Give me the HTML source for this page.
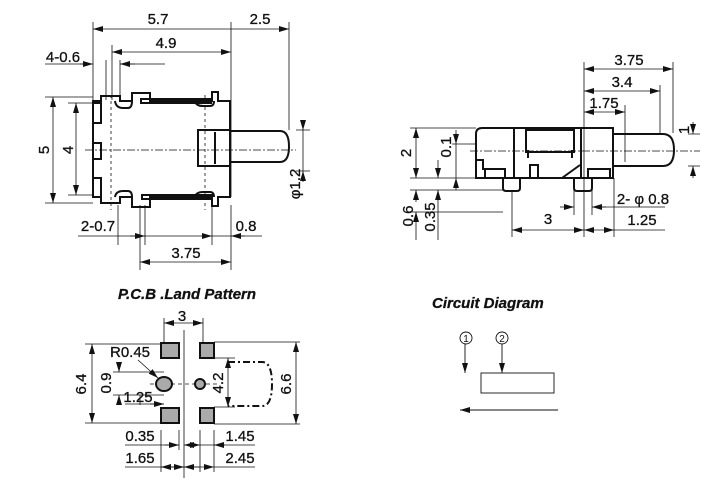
<!DOCTYPE html>
<html><head><meta charset="utf-8"><style>
html,body{margin:0;padding:0;background:#fff;width:721px;height:483px;overflow:hidden}
text{font-family:"Liberation Sans",Arial,sans-serif;font-size:15px;fill:#111;stroke:#111;stroke-width:0.3}
.t{font-weight:bold;font-style:italic;font-size:15px}
</style></head><body>
<svg width="721" height="483" viewBox="0 0 721 483" xmlns="http://www.w3.org/2000/svg">
<defs>
<marker id="a" viewBox="0 0 10 6" refX="10" refY="3" markerWidth="10" markerHeight="6" orient="auto-start-reverse" markerUnits="userSpaceOnUse"><path d="M0,0L10,3L0,6z" fill="#111"/></marker>
</defs>
<g stroke="#111" fill="none" stroke-width="0.8">
<path d="M93,22V100M112,45V100M231,22V197M289,22V130M106,60V100M120,60V100M45,97H93M68,103H93M45,203H93M68,195H93M296,130H310M296,171H310M140,205V270M231,205V270M212,205V245M145,205V245M118,205V245"/>
<path d="M93,29H231M231,29H289" marker-start="url(#a)" marker-end="url(#a)"/>
<path d="M112,52H231" marker-start="url(#a)" marker-end="url(#a)"/>
<path d="M45,64H93M120,64H165"/><path d="M80,64H93" marker-end="url(#a)"/><path d="M135,64H120" marker-end="url(#a)"/>
<path d="M53,97V203" marker-start="url(#a)" marker-end="url(#a)"/>
<path d="M76,103V195" marker-start="url(#a)" marker-end="url(#a)"/>
<path d="M303,120V130" marker-end="url(#a)"/><path d="M303,182V171" marker-end="url(#a)"/><path d="M303,130V171"/>
<path d="M78,236H200M212,236H262"/><path d="M130,236H145" marker-end="url(#a)"/><path d="M200,236H212" marker-end="url(#a)"/><path d="M245,236H231" marker-end="url(#a)"/>
<path d="M140,262H231" marker-start="url(#a)" marker-end="url(#a)"/>
<path d="M85,150H296" stroke-dasharray="8,2,2,2"/>
<path d="M111,95V210M205,95V210" stroke-dasharray="3,3"/>
</g>
<g stroke="#111" fill="none" stroke-width="2">
<path d="M93,101H101V96H120V101H132V93H150V101H212V92H218V101H230V197H218V206H212V197H150V207H132V197H120V203H101V197H93Z"/>
<rect x="93" y="103" width="8" height="20"/><rect x="93" y="143" width="8" height="16"/><rect x="93" y="178" width="8" height="19"/>
<rect x="141" y="99" width="70" height="4"/><rect x="142" y="195" width="70" height="4"/>
<path d="M115,101Q116,108 123,108H128Q132,108 132,101M195,101Q196,106 203,106H210Q214,106 214,101M115,197Q116,191 123,191H128Q132,191 132,197M195,197Q196,192 203,192H210Q214,192 214,197"/>
<rect x="198" y="130" width="32" height="36"/><path d="M215,132V164"/>
<path d="M230,131H280Q289,131 289,146.5Q289,162 280,162H230"/>
</g>

<g stroke="#111" fill="none" stroke-width="0.8">
<path d="M584,62V237M673,62V133M660,85V133M625,105V162M410,128H476M410,178H476M452,144H476M410,190H503M410,212H503M688,134H700M688,166H700M512,190V237M574,190V215M592,190V215M614,178V237"/>
<path d="M584,69H673" marker-start="url(#a)" marker-end="url(#a)"/>
<path d="M584,91H660" marker-start="url(#a)" marker-end="url(#a)"/>
<path d="M584,112H625" marker-start="url(#a)" marker-end="url(#a)"/>
<path d="M416,128V178" marker-start="url(#a)" marker-end="url(#a)"/>
<path d="M456,130V144" marker-end="url(#a)"/><path d="M456,190V178" marker-end="url(#a)"/><path d="M456,144V178"/>
<path d="M416,202V190" marker-end="url(#a)"/><path d="M416,222V212" marker-end="url(#a)"/><path d="M416,212V240"/>
<path d="M438,160V178" marker-end="url(#a)"/><path d="M438,200V190" marker-end="url(#a)"/><path d="M438,190V240"/>
<path d="M693,122V134" marker-end="url(#a)"/><path d="M693,178V166" marker-end="url(#a)"/>
<path d="M512,230H584" marker-start="url(#a)" marker-end="url(#a)"/>
<path d="M584,230H614" marker-start="url(#a)" marker-end="url(#a)"/><path d="M614,230H665"/>
<path d="M560,207H574" marker-end="url(#a)"/><path d="M606,207H592" marker-end="url(#a)"/><path d="M592,207H665"/>
<path d="M470,151H700" stroke-dasharray="8,2,2,2"/>
</g>
<g stroke="#111" fill="none" stroke-width="2">
<path d="M482,128H613V178H476V134Q476,128 482,128Z"/>
<path d="M514,128V178M581,128V178M477,160H483V170"/>
<rect x="526" y="130" width="48" height="22"/><path d="M528,150V158M572,150V158"/>
<path d="M485,178V169H505V178M588,178V169H610V178M530,178V165H538V178M562,178L580,165"/>
<path d="M503,178V188Q503,191 506,191H517Q520,191 520,188V178M574,178V188Q574,191 577,191H589Q592,191 592,188V178"/>
<path d="M613,134H663Q674,134 674,150Q674,166 663,166H613"/>
</g>

<g stroke="#111" fill="none" stroke-width="0.8">
<path d="M164,318V343M203,318V343M85,344H161M85,423H161M214,342H300M214,424H300M214,358H235M214,407H235M113,372H164M113,395H164M140,395V405M161,430V472M179,430V450M184,330V478M200,430V472M214,430V472"/>
<path d="M164,323H203" marker-start="url(#a)" marker-end="url(#a)"/>
<path d="M92,344V423" marker-start="url(#a)" marker-end="url(#a)"/>
<path d="M296,342V424" marker-start="url(#a)" marker-end="url(#a)"/>
<path d="M228,358V407" marker-start="url(#a)" marker-end="url(#a)"/>
<path d="M119,362V372" marker-end="url(#a)"/><path d="M119,405V395" marker-end="url(#a)"/>
<path d="M138,360L158,378" marker-end="url(#a)"/>
<path d="M125,404H164" /><path d="M150,404H164" marker-end="url(#a)"/>
<path d="M125,445H179M200,445H255"/><path d="M165,445H179" marker-end="url(#a)"/><path d="M184,445H200" marker-start="url(#a)" marker-end="url(#a)"/><path d="M225,445H214" marker-end="url(#a)"/>
<path d="M125,467H200M214,467H255"/><path d="M161,467H184" marker-start="url(#a)" marker-end="url(#a)"/><path d="M184,467H214" marker-start="url(#a)" marker-end="url(#a)"/>
<path d="M150,384H220" stroke-dasharray="4,3"/>
</g>
<g stroke="#111" stroke-width="2" fill="#aaa">
<rect x="161" y="343" width="18" height="15"/><rect x="200" y="343" width="14" height="15"/>
<rect x="161" y="408" width="18" height="15"/><rect x="200" y="408" width="14" height="15"/>
<ellipse cx="164" cy="384" rx="8" ry="7"/><circle cx="200" cy="384" r="5"/>
</g>
<path d="M228,362H262Q272,362 272,384Q272,406 262,406H228" stroke="#111" stroke-width="2" fill="none" stroke-dasharray="7,3,2,3"/>

<g stroke="#111" fill="none" stroke-width="0.9">
<circle cx="466" cy="338" r="6"/><circle cx="502" cy="338" r="6"/>
<path d="M465,344V373" marker-end="url(#a)"/>
<path d="M502,344V373" marker-end="url(#a)"/>
<rect x="481" y="373" width="73" height="20"/>
<path d="M558,410H460" marker-end="url(#a)"/>
</g>
<text x="466" y="342" text-anchor="middle" style="font-size:10px;stroke-width:0">1</text>
<text x="502" y="342" text-anchor="middle" style="font-size:10px;stroke-width:0">2</text>

<text x="158" y="24" text-anchor="middle">5.7</text>
<text x="260" y="24" text-anchor="middle">2.5</text>
<text x="166" y="48" text-anchor="middle">4.9</text>
<text x="63" y="62" text-anchor="middle">4-0.6</text>
<text x="49" y="150" text-anchor="middle" transform="rotate(-90 49 150)">5</text>
<text x="73" y="150" text-anchor="middle" transform="rotate(-90 73 150)">4</text>
<text x="300" y="184" text-anchor="middle" transform="rotate(-90 300 184)">φ1.2</text>
<text x="98" y="231" text-anchor="middle">2-0.7</text>
<text x="246" y="231" text-anchor="middle">0.8</text>
<text x="186" y="258" text-anchor="middle">3.75</text>

<text x="629" y="65" text-anchor="middle">3.75</text>
<text x="622" y="87" text-anchor="middle">3.4</text>
<text x="604" y="108" text-anchor="middle">1.75</text>
<text x="689" y="130" text-anchor="middle" transform="rotate(-90 689 130)">1</text>
<text x="411" y="153" text-anchor="middle" transform="rotate(-90 411 153)">2</text>
<text x="451" y="147" text-anchor="middle" transform="rotate(-90 451 147)">0.1</text>
<text x="413" y="216" text-anchor="middle" transform="rotate(-90 413 216)">0.6</text>
<text x="435" y="217" text-anchor="middle" transform="rotate(-90 435 217)">0.35</text>
<text x="548" y="224" text-anchor="middle">3</text>
<text x="643" y="204" text-anchor="middle">2- φ 0.8</text>
<text x="642" y="225" text-anchor="middle">1.25</text>

<text x="187" y="299" text-anchor="middle" class="t">P.C.B .Land  Pattern</text>
<text x="182" y="321" text-anchor="middle">3</text>
<text x="130" y="357" text-anchor="middle">R0.45</text>
<text x="111" y="383" text-anchor="middle" transform="rotate(-90 111 383)">0.9</text>
<text x="138" y="402" text-anchor="middle">1.25</text>
<text x="86" y="384" text-anchor="middle" transform="rotate(-90 86 384)">6.4</text>
<text x="291" y="384" text-anchor="middle" transform="rotate(-90 291 384)">6.6</text>
<text x="223" y="383" text-anchor="middle" transform="rotate(-90 223 383)">4.2</text>
<text x="140" y="441" text-anchor="middle">0.35</text>
<text x="240" y="441" text-anchor="middle">1.45</text>
<text x="140" y="463" text-anchor="middle">1.65</text>
<text x="240" y="463" text-anchor="middle">2.45</text>

<text x="432" y="308" class="t">Circuit  Diagram</text>
</svg>
</body></html>
